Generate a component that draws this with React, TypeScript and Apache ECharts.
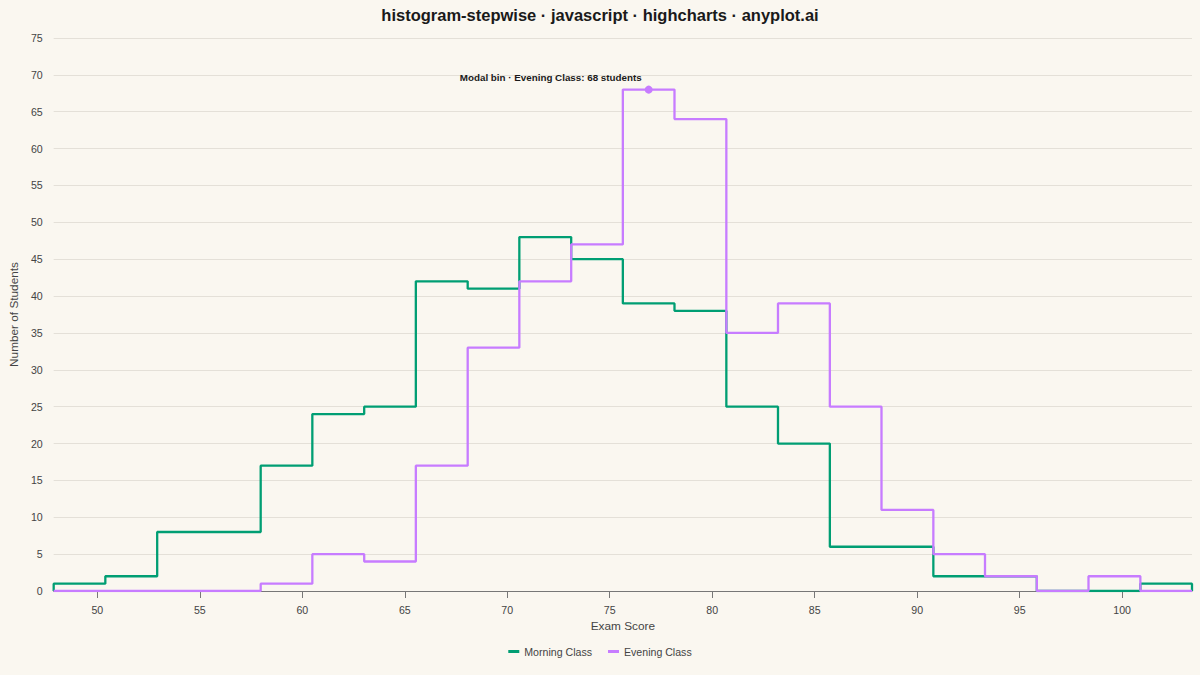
import { useEffect, useRef } from 'react';
import * as echarts from 'echarts';

// bin edges of the 22 score bins (shared by both classes)
const binEdges = [
    47.87, 50.39, 52.92, 55.44, 57.97, 60.49, 63.02, 65.54, 68.07, 70.59, 73.12, 75.64,
    78.16, 80.69, 83.21, 85.74, 88.26, 90.79, 93.31, 95.84, 98.36, 100.89, 103.41
];

const morningCounts = [1, 2, 8, 8, 17, 24, 25, 42, 41, 48, 45, 39, 38, 25, 20, 6, 6, 2, 2, 0, 0, 1];
const eveningCounts = [0, 0, 0, 0, 1, 5, 4, 17, 33, 42, 47, 68, 64, 35, 39, 25, 11, 5, 2, 0, 2, 0];

const xTicks = [50, 55, 60, 65, 70, 75, 80, 85, 90, 95, 100];

const seriesNames = ['Morning Class', 'Evening Class'];
const seriesColors = ['#009E73', '#C77CFF'];

const FONT = '"Liberation Sans", Arial, sans-serif';

// step outline: start on the baseline, one point per bin edge, back down at the end
const toSteps = (counts: number[]) => {
    const pts: number[][] = [[binEdges[0], 0]];
    counts.forEach((c, i) => pts.push([binEdges[i], c]));
    pts.push([binEdges[binEdges.length - 1], counts[counts.length - 1]]);
    pts.push([binEdges[binEdges.length - 1], 0]);
    return pts;
};

const App = () => {
    const chartRef = useRef<HTMLDivElement>(null);

    useEffect(() => {
        if (!chartRef.current) return;
        document.body.style.margin = '0';
        const chart = echarts.init(chartRef.current, null, { renderer: 'svg' });

        const modalIdx = eveningCounts.indexOf(Math.max(...eveningCounts));
        const modalX = (binEdges[modalIdx] + binEdges[modalIdx + 1]) / 2;

        chart.setOption({
            animation: false,
            backgroundColor: '#FAF7F0',
            textStyle: { fontFamily: FONT },
            title: {
                text: 'histogram-stepwise · javascript · highcharts · anyplot.ai',
                left: 'center',
                top: 1,
                textStyle: { fontSize: 16.5, fontWeight: 'bold', color: '#1a1a1a', fontFamily: FONT }
            },
            legend: {
                bottom: 13,
                left: 'center',
                icon: 'rect',
                itemWidth: 11,
                itemHeight: 3,
                itemGap: 16,
                textStyle: { fontSize: 10.6, color: '#444', fontFamily: FONT },
                data: seriesNames
            },
            grid: { left: 51, right: 8, top: 38, bottom: 84 },
            xAxis: {
                type: 'value',
                min: binEdges[0],
                max: binEdges[binEdges.length - 1],
                name: 'Exam Score',
                nameLocation: 'middle',
                nameGap: 28,
                nameTextStyle: { fontSize: 11.8, color: '#444', fontFamily: FONT },
                axisLine: { show: true, lineStyle: { color: '#777', width: 1 } },
                axisTick: { show: true, length: 7, lineStyle: { color: '#777' }, customValues: xTicks },
                axisLabel: { fontSize: 10.6, color: '#444', margin: 13, customValues: xTicks, fontFamily: FONT },
                splitLine: { show: false }
            },
            yAxis: {
                type: 'value',
                min: 0,
                max: 75,
                interval: 5,
                name: 'Number of Students',
                nameLocation: 'middle',
                nameGap: 30,
                nameTextStyle: { fontSize: 11.8, color: '#444', fontFamily: FONT },
                axisLine: { show: false },
                axisTick: { show: false },
                axisLabel: { fontSize: 10.6, color: '#444', margin: 11, fontFamily: FONT },
                splitLine: { lineStyle: { color: '#E4E0D8', width: 1 } }
            },
            series: [
                {
                    name: seriesNames[0],
                    type: 'line',
                    step: 'end',
                    data: toSteps(morningCounts),
                    showSymbol: false,
                    color: seriesColors[0],
                    lineStyle: { width: 2.3, color: seriesColors[0] },
                    z: 2
                },
                {
                    name: seriesNames[1],
                    type: 'line',
                    step: 'end',
                    data: toSteps(eveningCounts),
                    showSymbol: false,
                    color: seriesColors[1],
                    lineStyle: { width: 2.3, color: seriesColors[1] },
                    z: 3,
                    markPoint: {
                        symbol: 'circle',
                        symbolSize: 8,
                        itemStyle: { color: seriesColors[1] },
                        data: [{ coord: [modalX, eveningCounts[modalIdx]] }],
                        label: {
                            show: true,
                            position: 'left',
                            distance: 3,
                            offset: [0, -12],
                            formatter: `Modal bin · Evening Class: ${eveningCounts[modalIdx]} students`,
                            fontSize: 9.8,
                            fontWeight: 'bold',
                            color: '#1a1a1a',
                            fontFamily: FONT
                        }
                    }
                }
            ]
        });

        return () => chart.dispose();
    }, []);

    return <div ref={chartRef} style={{ position: 'absolute', left: 0, top: 0, width: 1200, height: 675 }} />;
};

export default App;
